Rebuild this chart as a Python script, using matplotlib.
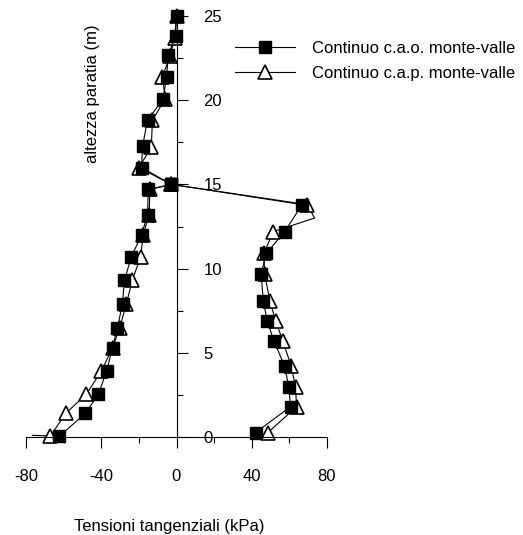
import matplotlib
matplotlib.use("Agg")
import matplotlib.pyplot as plt
from matplotlib.ticker import MultipleLocator

plt.rcParams['font.family'] = ['Liberation Sans', 'DejaVu Sans']
plt.rcParams['axes.unicode_minus'] = False

# c.a.o. (squares) - upper/left profile, from the top of the wall down to 15 m
cao_h_top = [25.0, 23.8, 22.7, 21.4, 20.1, 18.8, 17.3, 16.0, 15.0]
cao_t_top = [0.0, -0.5, -4.3, -5.3, -7.0, -15.4, -18.0, -18.6, -2.7]
# c.a.o. - left profile below 15 m
cao_h_left = [15.0, 14.7, 13.2, 12.0, 10.7, 9.3, 7.9, 6.5, 5.3, 3.9, 2.55, 1.4, 0.06]
cao_t_left = [-2.7, -15.0, -15.4, -18.6, -24.0, -27.7, -28.7, -31.4, -34.0, -37.2, -41.5, -48.4, -62.2]
# c.a.o. - right profile
cao_h_right = [15.0, 13.8, 12.2, 10.9, 9.7, 8.1, 6.9, 5.7, 4.2, 2.95, 1.8, 0.26]
cao_t_right = [-2.7, 66.8, 57.5, 47.7, 45.0, 46.1, 48.2, 51.8, 57.5, 59.7, 60.6, 42.0]

# c.a.p. (triangles)
cap_h_top = [25.0, 23.7, 22.6, 21.4, 20.1, 18.8, 17.2, 16.0, 15.0]
cap_t_top = [0.0, -1.0, -3.5, -7.5, -6.0, -12.8, -13.4, -20.0, -2.7]
cap_h_left = [15.0, 14.7, 13.2, 12.0, 10.7, 9.3, 7.9, 6.5, 5.3, 3.9, 2.55, 1.4, 0.06, 0.1]
cap_t_left = [-2.7, -14.2, -14.5, -17.8, -19.0, -23.6, -26.6, -30.2, -34.0, -40.0, -47.9, -58.9, -67.0, -76.6]
cap_h_right = [15.0, 13.8, 13.0, 12.2, 10.9, 9.7, 8.1, 6.9, 5.7, 4.2, 2.95, 1.8, 0.26]
cap_t_right = [-2.7, 69.5, 73.4, 51.4, 46.5, 46.8, 49.6, 52.7, 56.5, 61.0, 63.3, 63.8, 48.6]

fig = plt.figure(figsize=(5.23, 5.35), dpi=100)
ax = fig.add_axes([26 / 523, 1 - 437 / 535, 301 / 523, 421 / 535])

sq = dict(color='black', lw=0.8, marker='s', markersize=8.5, markerfacecolor='black', clip_on=False)
tr = dict(color='black', lw=0.8, marker='^', markersize=9.5, markerfacecolor='white',
          markeredgewidth=1.2, clip_on=False)

ax.plot(cap_t_top, cap_h_top, **tr)
ax.plot(cap_t_left, cap_h_left, markevery=list(range(13)), **tr)
ax.plot(cap_t_right, cap_h_right, markevery=[1] + list(range(3, 13)), **tr)
ax.plot(cao_t_top, cao_h_top, **sq)
ax.plot(cao_t_left, cao_h_left, **sq)
ax.plot(cao_t_right, cao_h_right, **sq)

# legend entries
l1, = ax.plot([], [], **sq)
l2, = ax.plot([], [], **tr)
fig.legend([l1, l2], ['Continuo c.a.o. monte-valle', 'Continuo c.a.p. monte-valle'],
           loc='upper left', bbox_to_anchor=(235 / 523, 1 - 41 / 535), frameon=False,
           fontsize=12, handlelength=3.6, handletextpad=1.0, labelspacing=0.62,
           borderaxespad=0, borderpad=0)

ax.set_xlim(-80, 80)
ax.set_ylim(0, 25)

ax.spines['left'].set_visible(False)
ax.spines['top'].set_visible(False)
ax.spines['right'].set_position(('data', 0))
ax.yaxis.tick_right()

ax.xaxis.set_major_locator(MultipleLocator(40))
ax.xaxis.set_minor_locator(MultipleLocator(20))
ax.yaxis.set_major_locator(MultipleLocator(5))
ax.yaxis.set_minor_locator(MultipleLocator(2.5))

ax.tick_params(axis='x', which='major', direction='out', length=8, width=0.8, pad=15, labelsize=12)
ax.tick_params(axis='x', which='minor', direction='out', length=4.3, width=0.8)
ax.tick_params(axis='y', which='major', direction='out', length=8, width=0.8, pad=11.5, labelsize=12)
ax.tick_params(axis='y', which='minor', direction='out', length=4.3, width=0.8)
for lab in ax.get_yticklabels():
    lab.set_horizontalalignment('left')

fig.text(169.5 / 523, 1 - 526 / 535, 'Tensioni tangenziali (kPa)', ha='center', va='center', fontsize=12)
fig.text(92 / 523, 1 - 94 / 535, 'altezza paratia (m)', rotation=90, ha='center', va='center', fontsize=12)

fig.savefig('out.png', dpi=100)
